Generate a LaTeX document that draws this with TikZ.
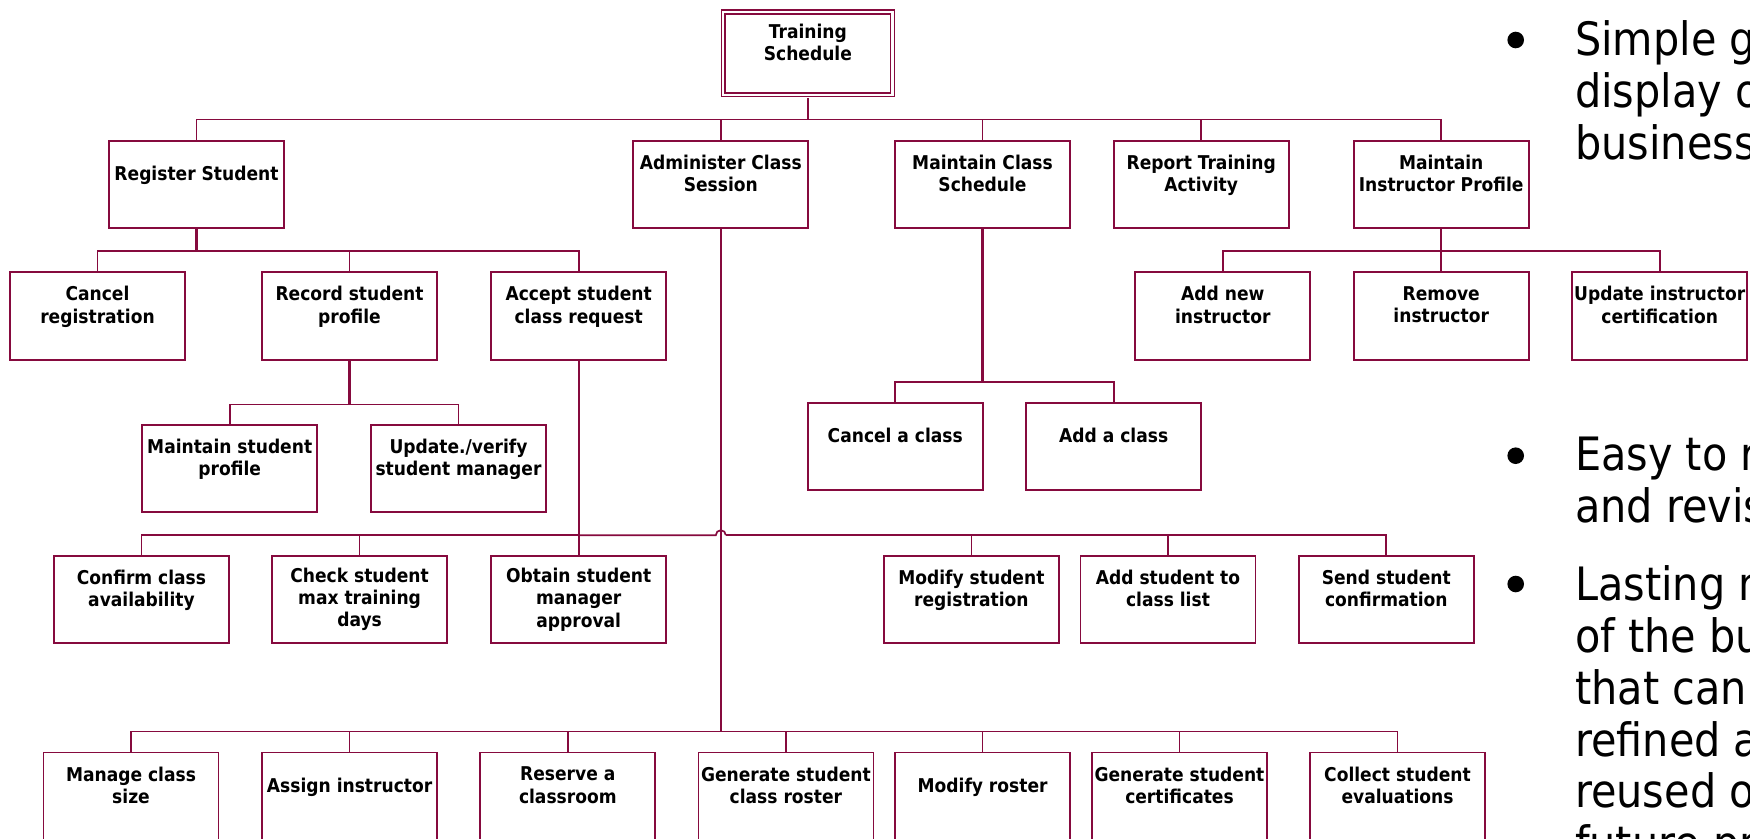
\documentclass[tikz,border=0pt]{standalone}
\usepackage{fontspec}
\usetikzlibrary{calc}
\newfontfamily\boxfont{DejaVu Sans Condensed}
\newfontfamily\bulletfont{DejaVu Sans Condensed}
\definecolor{wine}{RGB}{134,10,62}
% invisible trailing line used to lift short labels towards the top of a box
\newcommand\emptyline{\phantom{x}}
\begin{document}
\begin{tikzpicture}[x=1pt,y=-1pt,
  box/.style={draw=wine, line width=1.8pt, minimum width=175pt, minimum height=87.6pt,
    inner sep=0pt, align=center, text=black,
    font=\boxfont\bfseries\fontsize{19}{22.3}\selectfont},
  rootbox/.style={box, line width=1.6pt, double, double distance=2.2pt,
    minimum width=169.1pt, minimum height=82.7pt},
  conn/.style={draw=wine, line width=1.7pt},
  stub/.style={draw=wine, line width=2.4pt},
  bline/.style={anchor=base west, inner sep=0pt, text=black,
    font=\bulletfont\fontsize{46}{52}\selectfont},
  dot/.style={fill=black}]

\useasboundingbox (0,0) rectangle (1750,838);
\clip (0,0) rectangle (1750,838);

% ---------- root ----------
\node[rootbox] (ts) at (807.9,53.25) {Training\\Schedule\\\emptyline};

% ---------- level 1 ----------
\node[box] (rs)  at (196.5,184.5)  {Register Student\\\emptyline};
\node[box] (acs) at (720.8,184.5)  {Administer Class\\Session\\\emptyline};
\node[box] (mcs) at (982.5,184.5)  {Maintain Class\\Schedule\\\emptyline};
\node[box] (rta) at (1201.2,184.5) {Report Training\\Activity\\\emptyline};
\node[box] (mip) at (1441.2,184.5) {Maintain\\Instructor Profile\\\emptyline};

% ---------- level 2 ----------
\node[box] (cr)  at (97.5,315.8)   {Cancel\\registration\\\emptyline};
\node[box] (rsp) at (349.5,315.8)  {Record student\\profile\\\emptyline};
\node[box] (asr) at (578.7,315.8)  {Accept student\\class request\\\emptyline};
\node[box] (ani) at (1222.8,315.8) {Add new\\instructor\\\emptyline};
\node[box] (ri)  at (1441.2,315.8) {Remove\\instructor\\\emptyline};
\node[box] (uic) at (1659.7,315.8) {Update instructor\\certification\\\emptyline};

% ---------- class schedule children ----------
\node[box] (cac) at (895.3,446.5)  {Cancel a class\\\emptyline};
\node[box] (aac) at (1113.7,446.5) {Add a class\\\emptyline};

% ---------- student profile children ----------
\node[box] (msp)  at (229.7,468.5) {Maintain student\\profile\\\emptyline};
\node[box] (uvsm) at (458.5,468.5) {Update./verify\\student manager\\\emptyline};

% ---------- class request children ----------
\node[box] (cca)  at (141.5,599.5)  {Confirm class\\availability\\\emptyline};
\node[box] (csmt) at (359.6,599.5)  {Check student\\max training\\days};
\node[box] (osma) at (578.7,599.5)  {Obtain student\\manager\\approval};
\node[box] (msr)  at (971.4,599.5)  {Modify student\\registration\\\emptyline};
\node[box] (asc)  at (1168.0,599.5) {Add student to\\class list\\\emptyline};
\node[box] (ssc)  at (1386.3,599.5) {Send student\\confirmation\\\emptyline};

% ---------- class session children ----------
\node[box] (mcz)  at (131.0,796.3)  {Manage class\\size\\\emptyline};
\node[box] (ai)   at (349.6,796.3)  {Assign instructor\\\emptyline};
\node[box] (rac)  at (567.8,796.3)  {Reserve a\\classroom\\\emptyline};
\node[box] (gscr) at (785.9,796.3)  {Generate student\\class roster\\\emptyline};
\node[box] (mr)   at (982.6,796.3)  {Modify roster\\\emptyline};
\node[box] (gsc)  at (1179.5,796.3) {Generate student\\certificates\\\emptyline};
\node[box] (cse)  at (1397.5,796.3) {Collect student\\evaluations\\\emptyline};

% ---------- connectors ----------
% root
\draw[stub, shorten <=2.7pt] (ts.south) -- ++(0,24.2) coordinate (b0);
\foreach \c in {rs,acs,mcs,rta,mip} \draw[conn] (b0) -| (\c.north);

% register student
\draw[stub] (rs.south) -- ++(0,21.7) coordinate (b1);
\foreach \c in {cr,rsp,asr} \draw[conn] (b1) -| (\c.north);

% record student profile
\draw[stub] (rsp.south) -- ++(0,44) coordinate (b2);
\foreach \c in {msp,uvsm} \draw[conn] (b2) -| (\c.north);

% maintain instructor profile
\draw[stub] (mip.south) -- ++(0,21.7) coordinate (b3);
\foreach \c in {ani,ri,uic} \draw[conn] (b3) -| (\c.north);

% maintain class schedule
\draw[stub] (mcs.south) -- ++(0,152.7) coordinate (b4);
\foreach \c in {cac,aac} \draw[conn] (b4) -| (\c.north);

% administer class session
\draw[stub] (acs.south) -- ++(0,502.4) coordinate (b5);
\foreach \c in {mcz,ai,rac,gscr,mr,gsc,cse} \draw[conn] (b5) -| (\c.north);

% accept student class request, hopping over the session line
\draw[stub] (asr.south) -- ++(0,174.7) coordinate (b6);
\foreach \c in {cca,csmt,osma} \draw[conn] (b6) -| (\c.north);
\draw[conn] (b6) -- ($(acs.south |- b6)+(-5,0)$)
  arc[start angle=180, end angle=0, radius=5pt] coordinate (hop);
\foreach \c in {msr,asc,ssc} \draw[conn] (hop) -| (\c.north);

% ---------- bullet text ----------
\fill[dot] (1515.7,40) circle[radius=8.3pt];
\node[bline] (s1a) at (1575,55.3)  {Simple graphical};
\node[bline] (s1b) at (1575,107)   {display of the};
\node[bline] (s1c) at (1575,159.3) {business functions};

\fill[dot] (1515.7,455.7) circle[radius=8.3pt];
\node[bline] (s2a) at (1575,470.7) {Easy to read};
\node[bline] (s2b) at (1575,522.7) {and revise};

\fill[dot] (1515.7,584) circle[radius=8.3pt];
\node[bline] (s3a) at (1575,600)   {Lasting model};
\node[bline] (s3b) at (1575,652)   {of the business};
\node[bline] (s3c) at (1575,704)   {that can be};
\node[bline] (s3d) at (1575,756)   {refined and};
\node[bline] (s3e) at (1575,807.7) {reused on};
\node[bline] (s3f) at (1575,859.5) {future projects};
\end{tikzpicture}
\end{document}
